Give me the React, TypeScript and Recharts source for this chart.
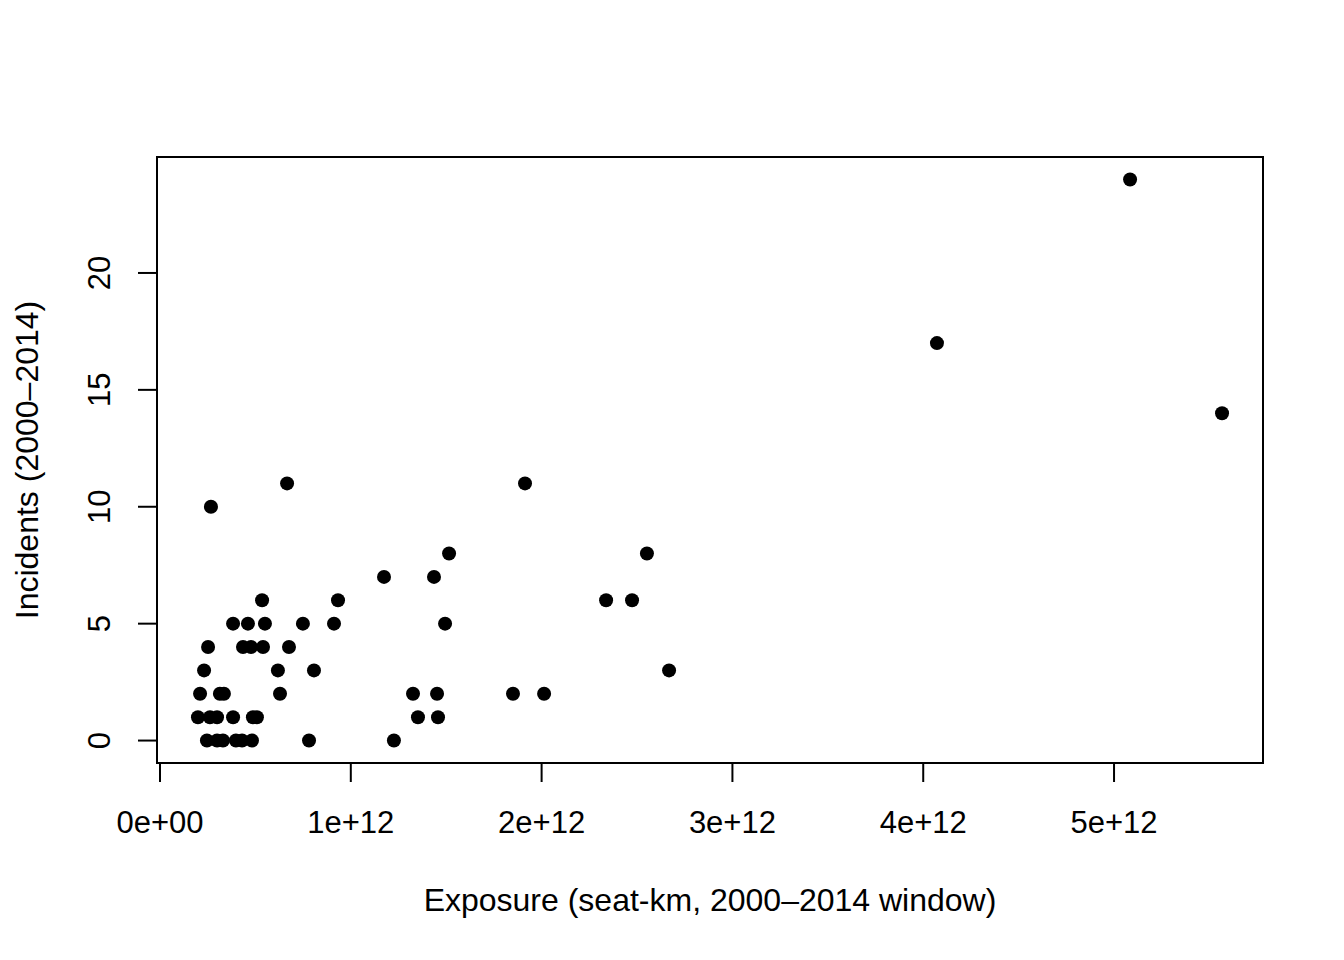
import React from "react";
import { ScatterChart, Scatter, XAxis, YAxis, ReferenceArea, Label } from "recharts";

// Exposure in seat-km (2000–2014 window)
const exposure = [
  // incidents = 0
  0.246e12, 0.299e12, 0.330e12, 0.398e12, 0.430e12, 0.482e12, 0.781e12, 1.226e12,
  // incidents = 1
  0.199e12, 0.262e12, 0.299e12, 0.383e12, 0.487e12, 0.508e12, 1.352e12, 1.457e12,
  // incidents = 2
  0.210e12, 0.314e12, 0.335e12, 0.629e12, 1.326e12, 1.452e12, 1.850e12, 2.013e12,
  // incidents = 3
  0.231e12, 0.618e12, 0.807e12, 2.668e12,
  // incidents = 4
  0.252e12, 0.435e12, 0.477e12, 0.540e12, 0.676e12,
  // incidents = 5
  0.383e12, 0.461e12, 0.550e12, 0.749e12, 0.912e12, 1.494e12,
  // incidents = 6
  0.535e12, 0.933e12, 2.338e12, 2.474e12,
  // incidents = 7
  1.174e12, 1.436e12,
  // incidents = 8
  1.515e12, 2.552e12,
  // incidents = 10, 11, 14, 17, 24
  0.267e12, 0.666e12, 1.913e12, 5.566e12, 4.072e12, 5.084e12,
];

const incidents = [
  0, 0, 0, 0, 0, 0, 0, 0,
  1, 1, 1, 1, 1, 1, 1, 1,
  2, 2, 2, 2, 2, 2, 2, 2,
  3, 3, 3, 3,
  4, 4, 4, 4, 4,
  5, 5, 5, 5, 5, 5,
  6, 6, 6, 6,
  7, 7,
  8, 8,
  10, 11, 11, 14, 17, 24,
];

const xTicks = [0, 1e12, 2e12, 3e12, 4e12, 5e12];
const xTickLabels = ["0e+00", "1e+12", "2e+12", "3e+12", "4e+12", "5e+12"];
const yTicks = [0, 5, 10, 15, 20];
const yTickLabels = ["0", "5", "10", "15", "20"];

const xTitle = "Exposure (seat-km, 2000–2014 window)";
const yTitle = "Incidents (2000–2014)";

const data = exposure.map((x, i) => ({ x, y: incidents[i] }));

// R-style 4% axis extension
const xmin = Math.min(...exposure);
const xmax = Math.max(...exposure);
const ymin = Math.min(...incidents);
const ymax = Math.max(...incidents);
const xDomain: [number, number] = [xmin - 0.04 * (xmax - xmin), xmax + 0.04 * (xmax - xmin)];
const yDomain: [number, number] = [ymin - 0.04 * (ymax - ymin), ymax + 0.04 * (ymax - ymin)];

const FONT = "'Liberation Sans', Arial, Helvetica, sans-serif";
const FS = 31;
const FS_TITLE = 32;

const XTick = (props: any) => {
  const { x, y, index } = props;
  return (
    <text x={x} y={y + 51} textAnchor="middle" fontFamily={FONT} fontSize={FS} fill="#000">
      {xTickLabels[index]}
    </text>
  );
};

const YTick = (props: any) => {
  const { x, y, index } = props;
  const bx = x - 28;
  return (
    <text
      x={bx}
      y={y}
      textAnchor="middle"
      transform={`rotate(-90, ${bx}, ${y})`}
      fontFamily={FONT}
      fontSize={FS}
      fill="#000"
    >
      {yTickLabels[index]}
    </text>
  );
};

const XTitle = (props: any) => {
  const vb = props.viewBox || {};
  return (
    <text
      x={vb.x + vb.width / 2}
      y={vb.y + 148}
      textAnchor="middle"
      fontFamily={FONT}
      fontSize={FS_TITLE}
      fill="#000"
    >
      {xTitle}
    </text>
  );
};

const YTitle = (props: any) => {
  const vb = props.viewBox || {};
  const cx = vb.x - 59;
  const cy = vb.y + vb.height / 2;
  return (
    <text
      x={cx}
      y={cy}
      textAnchor="middle"
      transform={`rotate(-90, ${cx}, ${cy})`}
      fontFamily={FONT}
      fontSize={FS_TITLE}
      fill="#000"
    >
      {yTitle}
    </text>
  );
};

const Dot = (props: any) => <circle cx={props.cx} cy={props.cy} r={7} fill="#000" />;

export default function App() {
  return (
    <div style={{ position: "absolute", left: 0, top: 0, width: 1344, height: 960, background: "#fff" }}>
      <ScatterChart width={1344} height={960} margin={{ top: 157, right: 81, bottom: 167, left: 97 }}>
        <XAxis
          type="number"
          dataKey="x"
          domain={xDomain}
          allowDataOverflow
          ticks={xTicks}
          interval={0}
          axisLine={false}
          tickLine={{ stroke: "#000", strokeWidth: 2 }}
          tickSize={19}
          tickMargin={0}
          tick={<XTick />}
          height={30}
          label={<Label content={<XTitle />} />}
        />
        <YAxis
          type="number"
          dataKey="y"
          domain={yDomain}
          allowDataOverflow
          ticks={yTicks}
          interval={0}
          axisLine={false}
          tickLine={{ stroke: "#000", strokeWidth: 2 }}
          tickSize={19}
          tickMargin={0}
          tick={<YTick />}
          width={60}
          label={<Label content={<YTitle />} />}
        />
        <ReferenceArea
          x1={xDomain[0]}
          x2={xDomain[1]}
          y1={yDomain[0]}
          y2={yDomain[1]}
          fill="none"
          stroke="#000"
          strokeWidth={2}
          ifOverflow="visible"
        />
        <Scatter data={data} shape={<Dot />} isAnimationActive={false} />
      </ScatterChart>
    </div>
  );
}
